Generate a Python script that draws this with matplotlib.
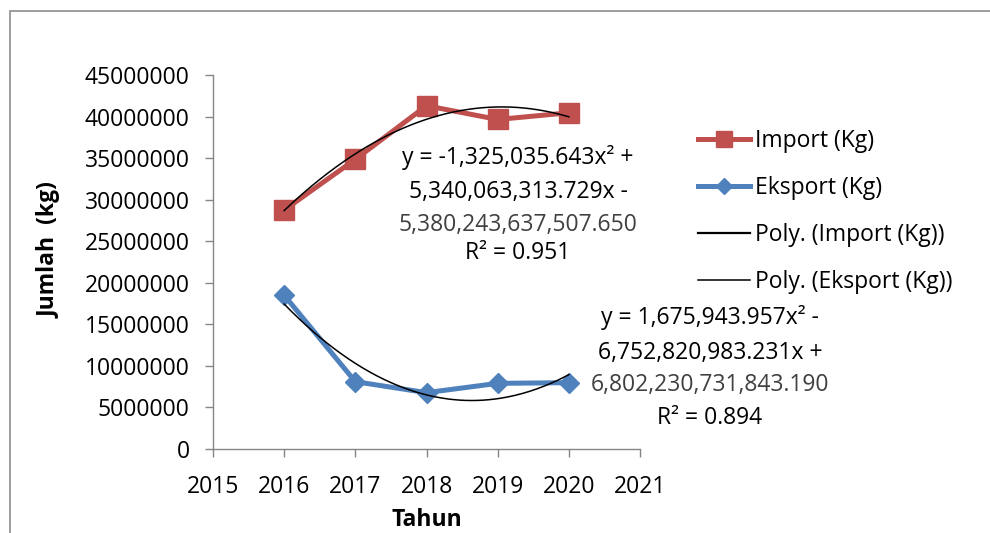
import numpy as np
import matplotlib
matplotlib.use("Agg")
import matplotlib.pyplot as plt
from matplotlib.lines import Line2D
from matplotlib.patches import Rectangle
from matplotlib.ticker import FuncFormatter

plt.rcParams['font.family'] = ['Open Sans', 'DejaVu Sans']

# ---------------- data ----------------
years = [2016, 2017, 2018, 2019, 2020]
import_kg = [28750000, 34850000, 41300000, 39650000, 40450000]
eksport_kg = [18500000, 8100000, 6780000, 7900000, 7980000]

x_ticks = [2015, 2016, 2017, 2018, 2019, 2020, 2021]
y_ticks = [0, 5000000, 10000000, 15000000, 20000000, 25000000,
           30000000, 35000000, 40000000, 45000000]

import_eq = ["y = -1,325,035.643x\u00b2 +", "5,340,063,313.729x -",
             "5,380,243,637,507.650", "R\u00b2 = 0.951"]
eksport_eq = ["y = 1,675,943.957x\u00b2 -", "6,752,820,983.231x +",
              "6,802,230,731,843.190", "R\u00b2 = 0.894"]

RED = '#C0504D'
BLUE = '#4F81BD'
GRAY = '#868686'
FS = 16.5

W, H = 990, 533
fig = plt.figure(figsize=(W / 100, H / 100), dpi=100)
ax = fig.add_axes([213 / W, 1 - 449 / H, (640 - 213) / W, (449 - 75) / H])

# outer chart frame (runs off the right / bottom edge)
fig.add_artist(Rectangle((10 / W, -0.2), 2, 1 - 11 / H + 0.2,
                         transform=fig.transFigure, fill=False,
                         edgecolor='#8c8c8c', lw=1.2))

ax.plot(years, import_kg, color=RED, lw=3.6, marker='s', ms=15,
        label='Import (Kg)', zorder=3)
ax.plot(years, eksport_kg, color=BLUE, lw=3.6, marker='D', ms=10.5,
        label='Eksport (Kg)', zorder=3)

# polynomial (order 2) trendlines
xs = np.linspace(years[0], years[-1], 200)
p_imp = np.polyfit(years, import_kg, 2)
p_eks = np.polyfit(years, eksport_kg, 2)
ax.plot(xs, np.polyval(p_imp, xs), color='black', lw=1.1, zorder=4)
ax.plot(xs, np.polyval(p_eks, xs), color='black', lw=1.1, zorder=4)

ax.set_xlim(2015, 2021)
ax.set_ylim(0, 45000000)
ax.set_xticks(x_ticks)
ax.set_yticks(y_ticks)
ax.yaxis.set_major_formatter(FuncFormatter(lambda v, p: f"{int(v)}"))
ax.xaxis.set_major_formatter(FuncFormatter(lambda v, p: f"{int(v)}"))

for s in ['top', 'right']:
    ax.spines[s].set_visible(False)
for s in ['left', 'bottom']:
    ax.spines[s].set_color(GRAY)
    ax.spines[s].set_linewidth(1.0)
ax.tick_params(axis='both', direction='out', length=5.8, width=1.0,
               color=GRAY, labelsize=FS)
ax.tick_params(axis='y', pad=11)
ax.tick_params(axis='x', pad=13)

fig.text(50 / W, 1 - 250 / H, 'Jumlah  (kg)', rotation=90, ha='center',
         va='center', fontsize=FS, fontweight='bold')
fig.text(427 / W, 1 - 520 / H, 'Tahun', ha='center', va='center',
         fontsize=FS, fontweight='bold')

# trendline equations
for i, (line, yy) in enumerate(zip(import_eq, [158, 192, 225, 253])):
    fig.text(518 / W, 1 - yy / H, line, ha='center', va='center',
             fontsize=FS, color='#404040' if i == 2 else 'black')
for i, (line, yy) in enumerate(zip(eksport_eq, [318, 353, 385, 418])):
    fig.text(710 / W, 1 - yy / H, line, ha='center', va='center',
             fontsize=FS, color='#404040' if i == 2 else 'black')

handles = [
    Line2D([], [], color=RED, lw=3.6, marker='s', ms=11),
    Line2D([], [], color=BLUE, lw=3.6, marker='D', ms=8),
    Line2D([], [], color='black', lw=1.6),
    Line2D([], [], color='black', lw=1.1),
]
labels = ['Import (Kg)', 'Eksport (Kg)', 'Poly. (Import (Kg))',
          'Poly. (Eksport (Kg))']
fig.legend(handles, labels, loc='upper left',
           bbox_to_anchor=(698 / W, 1 - 129 / H), frameon=False,
           fontsize=FS, handlelength=2.25, handletextpad=0.25,
           labelspacing=1.0, borderpad=0, borderaxespad=0)

fig.savefig('out.png', dpi=100)
